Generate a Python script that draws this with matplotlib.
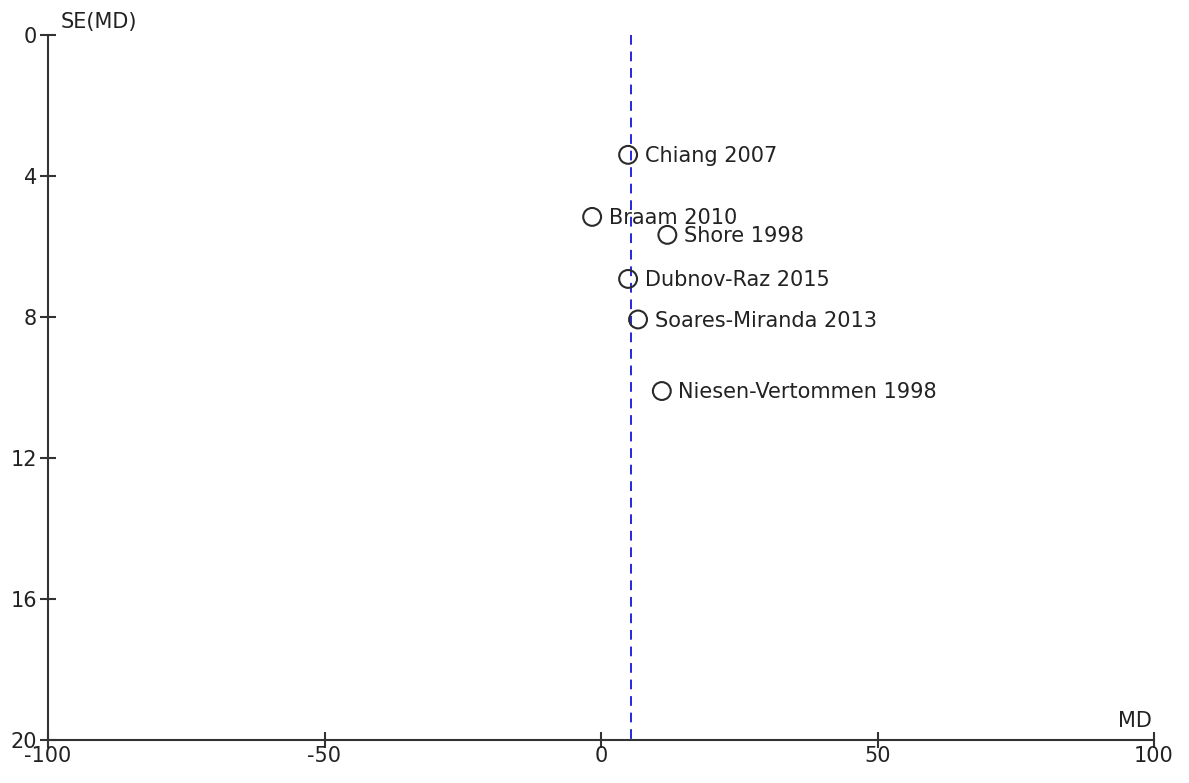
import numpy as np
import matplotlib.pyplot as plt

plt.rcParams['font.family'] = ['DejaVu Sans']

studies = ['Chiang 2007', 'Braam 2010', 'Shore 1998', 'Dubnov-Raz 2015',
           'Soares-Miranda 2013', 'Niesen-Vertommen 1998']
md = [4.9, -1.6, 12.0, 4.9, 6.7, 11.0]
se = [3.40, 5.16, 5.67, 6.92, 8.07, 10.10]
pooled_md = 5.4

x_ticks = [-100, -50, 0, 50, 100]
y_ticks = [0, 4, 8, 12, 16, 20]

fs = 15

fig = plt.figure(figsize=(11.89, 7.83), dpi=100)
ax = fig.add_axes([48 / 1189, 1 - 740 / 783, (1154 - 48) / 1189, (740 - 35) / 783])

# pooled estimate
ax.plot([pooled_md, pooled_md], [0, 20], color='#2626e0', linestyle=(0, (5, 3.5)),
        linewidth=1.4, zorder=1)
ax.scatter(md, se, s=165, facecolors='none', edgecolors='#2a2a2a',
           linewidths=1.5, zorder=3)
for name, x, y in zip(studies, md, se):
    ax.annotate(name, (x, y), xytext=(12, -1), textcoords='offset points',
                ha='left', va='center', fontsize=fs, color='#222222', zorder=4)

ax.set_xlim(-100, 100)
ax.set_ylim(20, 0)
ax.set_xticks(x_ticks)
ax.set_yticks(y_ticks)
ax.set_xticklabels([str(t) for t in x_ticks])
ax.set_yticklabels([str(t) for t in y_ticks])

for side in ['top', 'right']:
    ax.spines[side].set_visible(False)
for side in ['left', 'bottom']:
    ax.spines[side].set_color('#333333')
    ax.spines[side].set_linewidth(1.5)
ax.tick_params(direction='inout', length=12, width=1.5, color='#333333',
               labelsize=fs, labelcolor='#222222')
ax.tick_params(axis='y', pad=2)
ax.tick_params(axis='x', pad=-2)
ax.patch.set_visible(False)

fig.text(61 / 1189, 1 - 22 / 783, 'SE(MD)', ha='left', va='center',
         fontsize=fs, color='#222222')
fig.text(1152 / 1189, 1 - 721 / 783, 'MD', ha='right', va='center',
         fontsize=fs, color='#222222')

fig.savefig('out.png', dpi=100)
